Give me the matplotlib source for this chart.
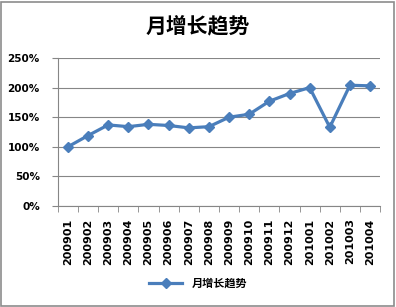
import numpy as np
import matplotlib.pyplot as plt
from matplotlib.patches import Rectangle

plt.rcParams['font.family'] = ['Noto Sans CJK SC', 'DejaVu Sans']

months = ["200901", "200902", "200903", "200904", "200905", "200906",
          "200907", "200908", "200909", "200910", "200911", "200912",
          "201001", "201002", "201003", "201004"]
growth = [100, 119, 137, 134, 138, 136, 132, 134, 150, 155, 177, 190,
          200, 133, 204, 203]
yticks = [0, 50, 100, 150, 200, 250]
line_color = "#4a7ebb"

fig = plt.figure(figsize=(3.96, 3.07), dpi=100)
fig.patches.append(Rectangle((0.002, 0.003), 0.994, 0.992, transform=fig.transFigure,
                             fill=False, edgecolor="#8c8c8c", linewidth=1.2))
ax = fig.add_axes([0.146, 0.329, 0.814, 0.482])

x = np.arange(len(months))
ax.plot(x, growth, color=line_color, linewidth=2.3, marker="D", markersize=5,
        label="月增长趋势")

ax.set_xlim(-0.5, len(months) - 0.5)
ax.set_ylim(0, 250)
ax.set_yticks(yticks)
ax.set_yticklabels([f"{v}%" for v in yticks], fontsize=7.5, fontweight="bold",
                   family="DejaVu Sans")
ax.set_xticks(x)
ax.set_xticklabels(months, rotation=90, fontsize=8, fontweight="bold",
                   family="DejaVu Sans")
ax.set_xticks(np.arange(-0.5, len(months)), minor=True)
ax.tick_params(axis="x", which="major", length=0, pad=9)
ax.tick_params(axis="x", which="minor", length=4, color="#868686", direction="out")
ax.tick_params(axis="y", length=4, color="#868686", direction="out", pad=9)

ax.grid(axis="y", color="#868686", linewidth=0.8)
ax.set_axisbelow(True)
for side in ["top", "right"]:
    ax.spines[side].set_visible(False)
for side in ["left", "bottom"]:
    ax.spines[side].set_color("#868686")
    ax.spines[side].set_linewidth(0.8)

fig.text(0.5, 0.915, "月增长趋势", ha="center", va="center", fontsize=15,
         fontweight="bold")
fig.legend(loc="center", bbox_to_anchor=(0.5, 0.078), frameon=False,
           prop={"size": 8, "weight": "bold"}, handlelength=3)

fig.savefig("out.png", dpi=100)
